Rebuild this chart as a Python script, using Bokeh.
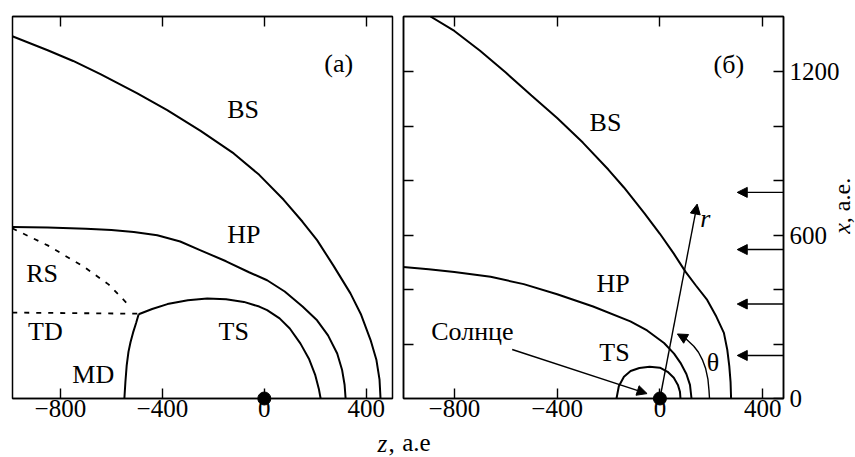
from bokeh.plotting import figure
from bokeh.models import Range1d, LinearAxis, FixedTicker, Arrow, NormalHead, ColumnDataSource
from bokeh.layouts import row
from bokeh.embed import file_html
from bokeh.resources import INLINE
from bokeh.core.properties import value

FONT = "Liberation Serif"

# ---------------- data: panel (а) ----------------
bs_a_z = [-989, -850, -750, -643, -500, -381, -250, -120, -20, 76, 150, 207, 270, 338, 380, 417, 440, 452, 456]
bs_a_y = [1320, 1269, 1230, 1182, 1113, 1051, 975, 893, 815, 724, 644, 577, 486, 383, 305, 213, 140, 70, 0]
hp_a_z = [-989, -850, -700, -600, -512, -420, -330, -250, -150, -60, 11, 80, 150, 207, 250, 286, 305, 315, 319]
hp_a_y = [625, 623, 619, 614, 607, 595, 572, 540, 500, 460, 431, 390, 335, 285, 230, 164, 105, 50, 0]
ts_a_z = [-493, -440, -380, -300, -224, -150, -80, -20, 11, 60, 100, 142, 175, 200, 214, 221]
ts_a_y = [307, 326, 344, 358, 364, 362, 352, 335, 322, 292, 255, 200, 145, 85, 35, 0]
md_a_z = [-493, -503, -515, -525, -533, -540, -545, -549]
md_a_y = [307, 275, 240, 205, 170, 120, 60, 0]
td_a_z = [-989, -493]
td_a_y = [313, 309]
rs_a_z = [-989, -850, -708, -610, -538]
rs_a_y = [620, 558, 480, 415, 346]
labels_a = ["(а)", "BS", "HP", "RS", "TD", "MD", "TS"]
labels_a_z = [292, -83, -80, -872, -859, -671, -120]
labels_a_y = [1221, 1053, 598, 456, 243, 89, 243]

# ---------------- data: panel (б) ----------------
bs_b_z = [-893, -800, -700, -600, -500, -400, -300, -200, -140, -60, 0, 54, 100, 140, 184, 220, 249, 262, 270, 275, 277]
bs_b_y = [1403, 1350, 1277, 1197, 1113, 1030, 940, 840, 775, 680, 605, 532, 465, 415, 362, 300, 241, 180, 119, 60, 0]
hp_b_z = [-999, -900, -800, -659, -530, -400, -260, -115, -50, 16, 55, 80, 103, 117, 123]
hp_b_y = [483, 475, 465, 447, 420, 383, 338, 283, 250, 204, 165, 131, 90, 50, 0]
ts_b_z = [-169, -160, -140, -114, -80, -40, 0, 30, 54, 70, 78, 80]
ts_b_y = [0, 45, 80, 101, 112, 117, 113, 98, 76, 50, 25, 0]
theta_arc_z = [193, 191, 187, 178, 165, 150, 132, 100]
theta_arc_y = [0, 30, 70, 110, 143, 170, 192, 220]
theta_head = [100, 220, 68, 237]          # start z, start y, end z, end y
r_arrow = [0, 0, 145, 714]
sun_arrow = [-575, 180, -50, 18]
wind_arrows_y = [757, 547, 347, 158]
wind_arrow_z = [481, 301]
labels_b = ["(б)", "BS", "HP", "TS", "Солнце", "θ"]
labels_b_z = [268, -212, -182, -177, -730, 207]
labels_b_y = [1226, 1012, 423, 170, 246, 131]
r_label = ["r"]
r_label_z = [177]
r_label_y = [660]

sun_z = [0]
sun_y = [0]

z_ticks = [-800, -400, 0, 400]
z_tick_labels = {-800: "−800", -400: "−400", 0: "0", 400: "400"}
x_ticks = [0, 600, 1200]
x_minor_ticks = [200, 400, 800, 1000]
x_all_ticks = [200, 400, 600, 800, 1000, 1200]


def style_axis(ax, size="25px"):
    ax.axis_line_color = "black"
    ax.axis_line_width = 1.5
    ax.major_tick_in = 10
    ax.major_tick_out = 0
    ax.minor_tick_in = 10
    ax.minor_tick_out = 0
    ax.major_tick_line_color = "black"
    ax.minor_tick_line_color = "black"
    ax.major_tick_line_width = 1.4
    ax.minor_tick_line_width = 1.4
    ax.major_label_text_font = FONT
    ax.major_label_text_color = "black"
    ax.major_label_text_font_size = size


def ticks_only_axis(positions):
    ax = LinearAxis(ticker=FixedTicker(ticks=[], minor_ticks=positions))
    style_axis(ax)
    ax.major_label_standoff = 0
    return ax


def base_fig(w, h, xr, yr, bl, br, bt, bb):
    p = figure(width=w, height=h, x_range=Range1d(*xr), y_range=Range1d(*yr),
               output_backend="svg", toolbar_location=None,
               x_axis_location=None, y_axis_location=None,
               min_border_left=bl, min_border_right=br, min_border_top=bt, min_border_bottom=bb)
    p.grid.visible = False
    p.outline_line_color = "black"
    p.outline_line_width = 1.5
    p.background_fill_color = "white"
    p.border_fill_color = "white"
    return p


def add_texts(p, txt, zs, ys, size="26px", style="normal", align="center",
              baseline="middle", angle=0.0, level="glyph"):
    src = ColumnDataSource(dict(x=zs, y=ys, t=txt))
    p.text(x="x", y="y", text="t", source=src, text_font=value(FONT), text_font_size=size,
           text_font_style=style, text_align=align, text_baseline=baseline, angle=angle,
           text_color="black", level=level)


# ---------------- panel (а) ----------------
pa = base_fig(399, 457, (-988, 503), (0, 1392), 12, 7, 16, 59)
ax_b = LinearAxis(ticker=FixedTicker(ticks=z_ticks), major_label_overrides=z_tick_labels)
style_axis(ax_b)
ax_b.major_label_standoff = 1
pa.add_layout(ax_b, "below")
pa.add_layout(ticks_only_axis(z_ticks), "above")

lw = 2.0
pa.line(bs_a_z, bs_a_y, line_color="black", line_width=lw)
pa.line(hp_a_z, hp_a_y, line_color="black", line_width=lw)
pa.line(ts_a_z, ts_a_y, line_color="black", line_width=lw)
pa.line(md_a_z, md_a_y, line_color="black", line_width=lw)
pa.line(td_a_z, td_a_y, line_color="black", line_width=1.8, line_dash="5 7")
pa.line(rs_a_z, rs_a_y, line_color="black", line_width=1.8, line_dash="5 7")
pa.scatter(sun_z, sun_y, size=13, color="black", level="overlay")
add_texts(pa, labels_a, labels_a_z, labels_a_y)

# x-axis title "z, а.е" spans both panels: "z," here, "а.е" in panel (б)
add_texts(pa, ["z"], [444], [-164], size="25px", style="italic", align="left",
          baseline="middle", level="overlay")
add_texts(pa, [","], [487], [-164], size="25px", align="left",
          baseline="middle", level="overlay")

# ---------------- panel (б) ----------------
pb = base_fig(456, 457, (-998, 481), (0, 1403), 4, 72, 14, 58)
bx_b = LinearAxis(ticker=FixedTicker(ticks=z_ticks), major_label_overrides=z_tick_labels)
style_axis(bx_b)
bx_b.major_label_standoff = 1
pb.add_layout(bx_b, "below")
pb.add_layout(ticks_only_axis(z_ticks), "above")
pb.add_layout(ticks_only_axis(x_all_ticks), "left")
by_r = LinearAxis(ticker=FixedTicker(ticks=x_ticks, minor_ticks=x_minor_ticks))
style_axis(by_r)
by_r.major_label_standoff = 6
pb.add_layout(by_r, "right")

pb.line(bs_b_z, bs_b_y, line_color="black", line_width=lw)
pb.line(hp_b_z, hp_b_y, line_color="black", line_width=lw)
pb.line(ts_b_z, ts_b_y, line_color="black", line_width=lw)
pb.line(theta_arc_z, theta_arc_y, line_color="black", line_width=1.4)


def head():
    return NormalHead(size=10, fill_color="black", line_color="black", line_width=1)


pb.add_layout(Arrow(end=head(), x_start=theta_head[0], y_start=theta_head[1],
                    x_end=theta_head[2], y_end=theta_head[3], line_width=1.4, line_color="black"))
pb.add_layout(Arrow(end=head(), x_start=r_arrow[0], y_start=r_arrow[1],
                    x_end=r_arrow[2], y_end=r_arrow[3], line_width=1.4, line_color="black"))
pb.add_layout(Arrow(end=head(), x_start=sun_arrow[0], y_start=sun_arrow[1],
                    x_end=sun_arrow[2], y_end=sun_arrow[3], line_width=1.4, line_color="black"))
for wy in wind_arrows_y:
    pb.add_layout(Arrow(end=head(), x_start=wind_arrow_z[0], y_start=wy,
                        x_end=wind_arrow_z[1], y_end=wy, line_width=1.4, line_color="black"))

pb.scatter(sun_z, sun_y, size=13, color="black", level="overlay")
add_texts(pb, labels_b, labels_b_z, labels_b_y)
add_texts(pb, r_label, r_label_z, r_label_y, style="italic")

add_texts(pb, ["а.е"], [-1003], [-160], size="25px", align="left",
          baseline="middle", level="overlay")
# right axis title "x, а.е." (rotated)
add_texts(pb, ["x"], [707], [605], size="24px", style="italic", align="left",
          baseline="middle", angle=1.5708, level="overlay")
add_texts(pb, [", а.е."], [707], [644], size="24px", align="left",
          baseline="middle", angle=1.5708, level="overlay")

layout = row(pa, pb)
open("out.html", "w").write(file_html(layout, INLINE))
